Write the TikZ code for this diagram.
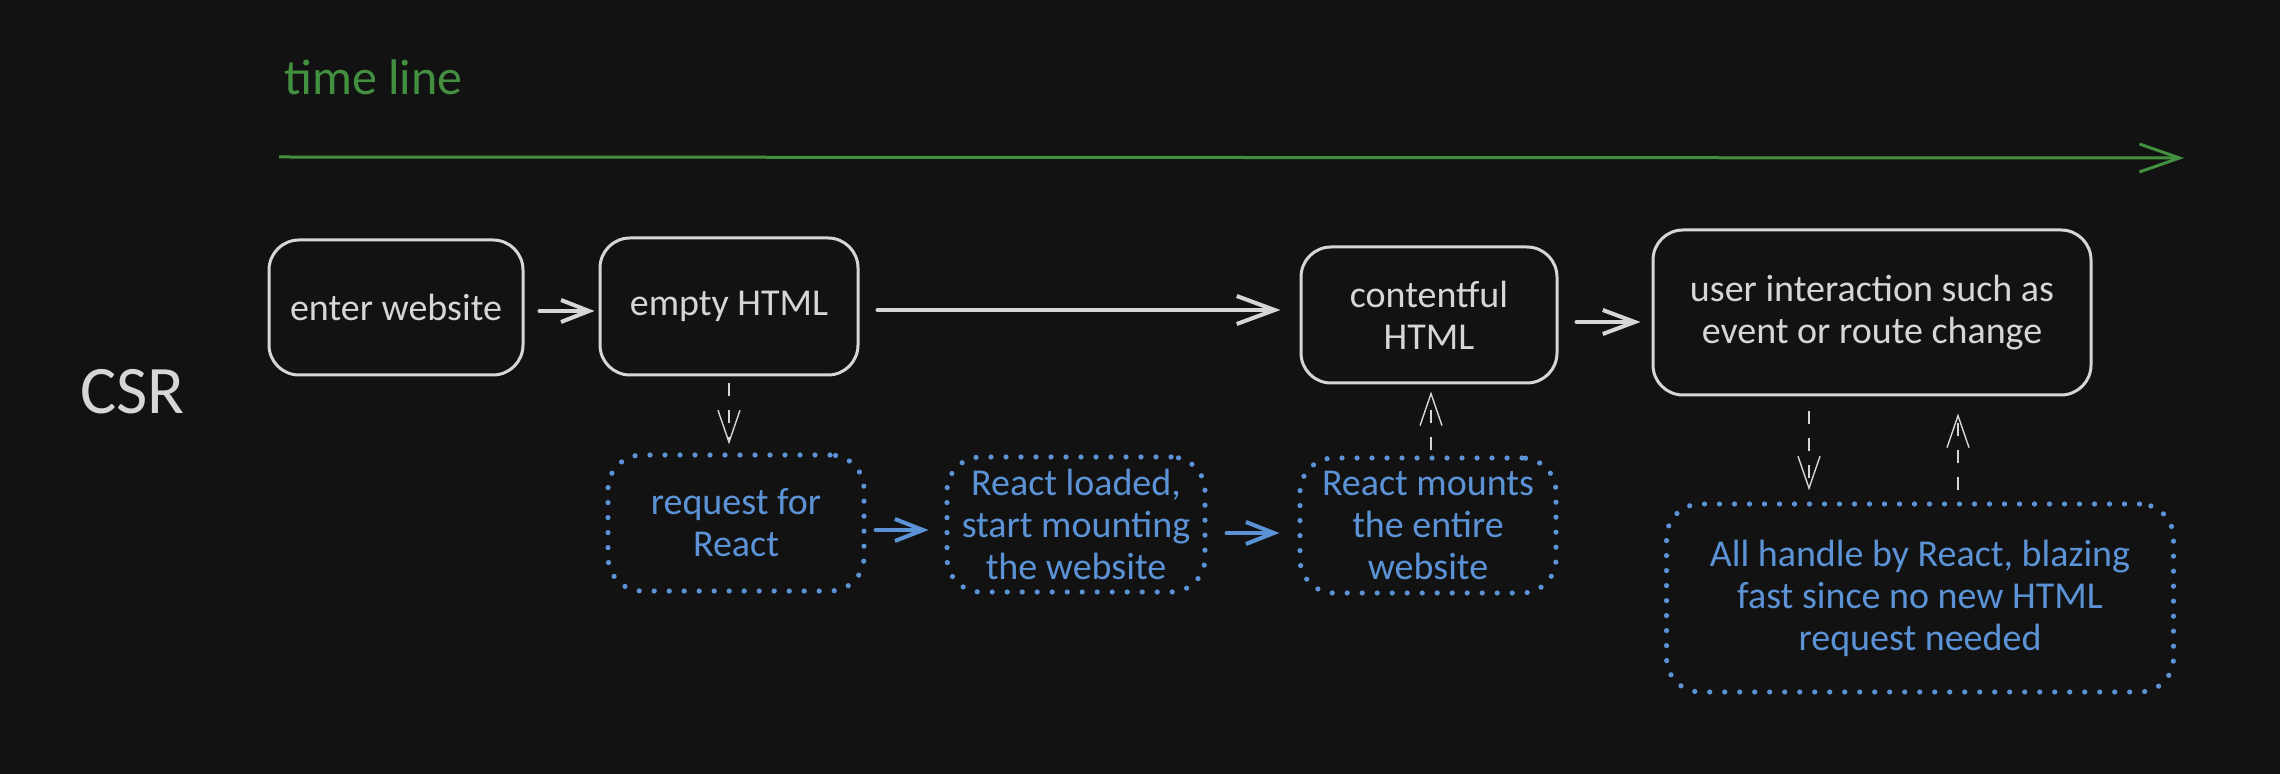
\documentclass[tikz,border=0pt]{standalone}
\usepackage{fontspec}
\setmainfont{Carlito}
\usetikzlibrary{arrows.meta,calc}
\definecolor{bg}{HTML}{121212}
\definecolor{fg}{HTML}{D6D6D6}
\definecolor{bl}{HTML}{5B93D6}
\definecolor{gr}{HTML}{42903F}
\begin{document}
\begin{tikzpicture}[x=0.5pt,y=-0.5pt,
  txt/.style={font=\fontsize{19}{21}\selectfont, align=center, inner sep=0pt},
  whitebox/.style={txt, draw=fg, line width=1.5pt, rounded corners=15pt, text=fg},
  bluebox/.style={txt, draw=bl, line width=2.6pt, dash pattern=on 0pt off 7.5pt, line cap=round, rounded corners=17pt, text=bl},
  warr/.style={draw=fg, line width=2pt, line cap=round},
  barr/.style={draw=bl, line width=2pt, line cap=round},
  darr/.style={draw=fg, line width=0.7pt, dash pattern=on 6.5pt off 7pt, -{Straight Barb[length=16pt,width=11pt]}}
]
\fill[bg] (0,0) rectangle (2280,774);
\useasboundingbox (0,0) rectangle (2280,774);

% titles
\node[text=gr, font=\fontsize{25}{30}\selectfont, anchor=base west, inner sep=0pt] (tl) at (284,95) {time line};
\node[text=fg, font=\fontsize{34}{40}\selectfont, anchor=base west, inner sep=0pt] (csr) at (80,414) {CSR};

% time line arrow
\coordinate (t0) at (279,157);
\coordinate (t1) at (2184,158);
\draw[gr, line width=1.5pt, -{Straight Barb[length=20pt,width=14pt]}] (t0) -- (t1);

% main boxes
\node[whitebox, minimum width=127pt, minimum height=67.5pt] (b1) at (396,307.5) {enter website};
\node[whitebox, minimum width=129pt, minimum height=68.5pt] (b2) at (729,306.5) {empty HTML};
\node[whitebox, minimum width=128pt, minimum height=68pt] (b3) at (1429,315) {contentful\\HTML};
\node[whitebox, minimum width=219pt, minimum height=82.5pt] (b4) at (1872,312.5) {user interaction such as\\event or route change};

% blue boxes
\node[bluebox, minimum width=128pt, minimum height=68pt] (r1) at (736,523) {request for\\React};
\node[bluebox, minimum width=129pt, minimum height=67.5pt] (r2) at (1076,524.5) {React loaded,\\start mounting\\the website};
\node[bluebox, minimum width=128pt, minimum height=67.5pt] (r3) at (1428,525.5) {React mounts\\the entire\\website};
\node[bluebox, minimum width=253.5pt, minimum height=94pt] (r4) at (1920,598) {All handle by React, blazing\\fast since no new HTML\\request needed};

% solid connectors
\draw[warr, -{Straight Barb[length=14pt,width=11pt]}] ($(b1.east)+(15,3.5)$) -- ($(b2.west)+(-4,4.5)$);
\draw[warr, -{Straight Barb[length=19pt,width=14pt]}] ($(b2.east)+(18,3.5)$) -- ($(b3.west)+(-19,-5)$);
\draw[warr, -{Straight Barb[length=16pt,width=12pt]}] ($(b3.east)+(18,7)$) -- ($(b4.west)+(-11,9.5)$);
\draw[barr, -{Straight Barb[length=14pt,width=11pt]}] ($(r1.east)+(9,7)$) -- ($(r2.west)+(-16,5.5)$);
\draw[barr, -{Straight Barb[length=14pt,width=11pt]}] ($(r2.east)+(19,8.5)$) -- ($(r3.west)+(-18,7.5)$);

% dashed connectors
\draw[darr] ($(b2.south)+(0,7)$) -- ($(b2.south |- r1.north)+(0,-8)$);
\draw[darr] ($(r3.north)+(3,-5)$) -- ($(b3.south)+(2,7)$);
\draw[darr] ($(b4.south)+(-63,15)$) -- ($(r4.north)+(-111,-11)$);
\draw[darr] ($(r4.north)+(38,-11)$) -- ($(b4.south)+(86,17)$);
\end{tikzpicture}
\end{document}
